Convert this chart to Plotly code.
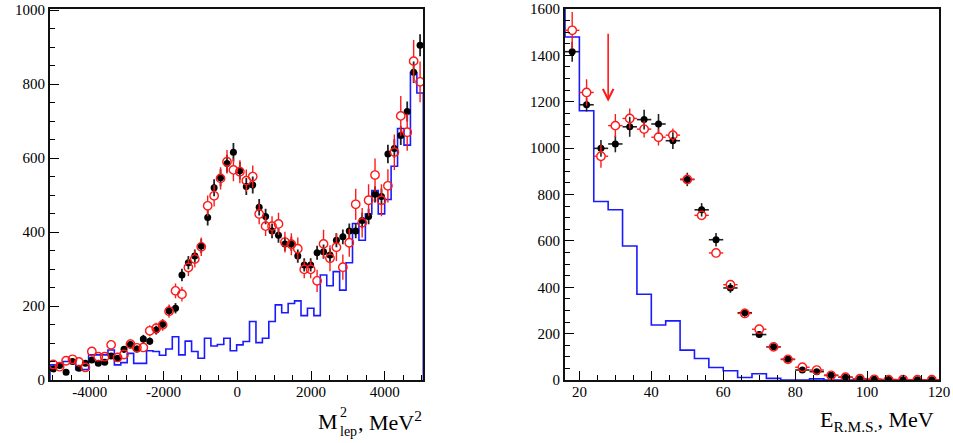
import numpy as np
import plotly.graph_objects as go

# ---------------- data: left panel (M^2_lep) ----------------
M2_RANGE = [-5080, 5045]
M2_NBINS = 58
black_m2 = [30, 39, 21, 50, 32, 45, 54, 45, 48, 65,
            59, 83, 96, 84, 111, 105, 135, 151, 187, 194,
            284, 317, 335, 362, 439, 520, 547, 585, 616, 566,
            523, 527, 467, 442, 403, 391, 368, 368, 335, 311,
            311, 344, 347, 338, 378, 387, 403, 403, 431, 442,
            502, 496, 611, 626, 661, 726, 832, 905]
black_m2_err = [6, 6, 5, 7, 6, 7, 7, 7, 7, 8,
                8, 9, 10, 9, 11, 10, 12, 12, 14, 14,
                17, 18, 18, 19, 21, 23, 23, 24, 25, 24,
                23, 23, 22, 21, 20, 20, 19, 19, 18, 18,
                18, 19, 19, 18, 19, 20, 20, 20, 21, 21,
                22, 22, 25, 25, 26, 27, 29, 30]
red_m2 = [42, 36, 52, 56, 49, 34, 77, 63, 63, 95,
          61, 69, 97, 87, 88, 133, 140, 149, 186, 241,
          232, 304, 327, 360, 471, 498, 545, 590, 568, 563,
          539, 550, 449, 416, 416, 422, 373, 367, 355, 299,
          299, 268, 368, 329, 359, 305, 371, 475, 425, 486,
          554, 486, 525, 616, 714, 670, 862, 806]
red_m2_err = [8, 8, 9, 10, 9, 8, 11, 10, 10, 13,
              10, 11, 13, 12, 12, 15, 15, 16, 18, 20,
              20, 23, 23, 25, 28, 29, 30, 32, 31, 31,
              30, 30, 28, 27, 27, 30, 28, 30, 30, 24,
              24, 30, 38, 35, 37, 34, 38, 42, 40, 43,
              45, 43, 45, 48, 54, 50, 57, 55]
blue_m2 = [41, 41, 50, 50, 28, 28, 68, 68, 68, 81,
           41, 47, 72, 45, 45, 79, 77, 67, 84, 117,
           68, 105, 77, 59, 113, 92, 96, 113, 79, 95,
           104, 158, 101, 113, 158, 203, 182, 207, 214, 174,
           194, 174, 284, 255, 293, 243, 317, 423, 378, 449,
           512, 449, 488, 578, 680, 635, 831, 776]
M2_YRANGE = [0, 1003]
m2_tickvals = [-4000, -2000, 0, 2000, 4000]
m2_ticktext = ["-4000", "-2000", "0", "2000", "4000"]
left_y_ticks = [0, 200, 400, 600, 800, 1000]

# ---------------- data: right panel (E_RMS) ----------------
e_centers = [18, 22, 26, 30, 34, 38, 42, 46, 50, 54, 58, 62, 66, 70, 74, 78,
             82, 86, 90, 94, 98, 102, 106, 110, 114, 118]
black_e = [1416, 1187, 999, 1018, 1092, 1123, 1104, 1032, 865, 734, 605, 397, 290,
           196, 143, 89, 43, 36, 20, 12, 5, 3, 2, 1, 1, 1]
black_e_err = [43, 29, 36, 36, 43, 43, 43, 36, 29, 29, 29, 21, 17,
               14, 12, 9, 7, 6, 5, 4, 2, 2, 1, 1, 1, 1]
red_e = [1508, 1240, 965, 1097, 1128, 1082, 1047, 1056, 865, 710, 548, 411, 287,
         219, 143, 89, 55, 43, 20, 12, 6, 3, 1, 2, 1, 1]
red_e_err = [79, 57, 50, 50, 43, 36, 36, 29, 22, 18, 15, 12, 10,
             9, 8, 6, 5, 4, 3, 2, 2, 1, 1, 1, 1, 1]
E_BIN_HALF = 2
blue_e_edges = [12, 16, 20, 24, 28, 32, 36, 40, 44, 48, 52, 56, 60, 64, 68, 72, 76,
                80, 84, 88, 92, 96, 100, 104, 108, 112, 116, 120]
blue_e = [2000, 1479, 1161, 770, 734, 578, 370, 237, 255, 129, 93, 54, 40, 11, 27, 7, 0,
          0, 5, 0, 0, 0, 0, 0, 0, 0, 0]
E_RANGE = [16, 120]
E_YRANGE = [0, 1600]
cut_x = 28
cut_top = 1500
cut_tip = 1200

# ---------------- geometry / style ----------------
W, H = 953, 443
L1, R1 = 50, 423.3
L2, R2 = 565, 939
PT, PB = 9, 380
MARKER_R = 4.2  # px radius of the open red circles

BLUE = "#1a1aff"
RED = "#ff1a1a"
BLACK = "#000000"
FONT = "Liberation Serif, Times New Roman, serif"

edges_m2 = np.linspace(M2_RANGE[0], M2_RANGE[1], M2_NBINS + 1)
centers_m2 = 0.5 * (edges_m2[:-1] + edges_m2[1:])


def step_xy(edges, vals):
    xs = [edges[0]] + list(edges) + [edges[-1]]
    ys = [0] + list(vals) + [vals[-1], 0]
    return xs, ys


def gapped_bars(xs, ys, yerr, ry, xhalf=None, rx=None):
    """error bar segments that stop at the edge of an open marker"""
    px, py_ = [], []
    for x, y, e in zip(xs, ys, yerr):
        if e > ry:
            px += [x, x, None, x, x, None]
            py_ += [y + ry, y + e, None, y - ry, max(y - e, 0), None]
        if xhalf is not None and xhalf > rx:
            px += [x + rx, x + xhalf, None, x - rx, x - xhalf, None]
            py_ += [y, y, None, y, y, None]
    return px, py_


fig = go.Figure()

# left panel
ry_left = MARKER_R * (M2_YRANGE[1] - M2_YRANGE[0]) / (PB - PT)
bx, by = step_xy(edges_m2, blue_m2)
fig.add_trace(go.Scatter(x=bx, y=by, mode="lines", line=dict(shape="hv", color=BLUE, width=1.6),
                         xaxis="x", yaxis="y", hoverinfo="skip"))
fig.add_trace(go.Scatter(x=centers_m2, y=black_m2, mode="markers",
                         marker=dict(symbol="circle", size=7, color=BLACK),
                         error_y=dict(type="data", array=black_m2_err, color="#222222", thickness=1.8, width=0),
                         xaxis="x", yaxis="y"))
gx, gy = gapped_bars(centers_m2, red_m2, red_m2_err, ry_left)
fig.add_trace(go.Scatter(x=gx, y=gy, mode="lines", line=dict(color=RED, width=1.4),
                         xaxis="x", yaxis="y", hoverinfo="skip"))
fig.add_trace(go.Scatter(x=centers_m2, y=red_m2, mode="markers",
                         marker=dict(symbol="circle-open", size=2 * MARKER_R, color=RED,
                                     line=dict(width=1.4, color=RED)),
                         xaxis="x", yaxis="y"))

# right panel
ry_right = MARKER_R * (E_YRANGE[1] - E_YRANGE[0]) / (PB - PT)
rx_right = MARKER_R * (E_RANGE[1] - E_RANGE[0]) / (R2 - L2)
ex, ey = step_xy(blue_e_edges, blue_e)
fig.add_trace(go.Scatter(x=ex, y=ey, mode="lines", line=dict(shape="hv", color=BLUE, width=1.6),
                         xaxis="x2", yaxis="y2", hoverinfo="skip"))
fig.add_trace(go.Scatter(x=e_centers, y=black_e, mode="markers",
                         marker=dict(symbol="circle", size=7, color=BLACK),
                         error_y=dict(type="data", array=black_e_err, color="#222222", thickness=1.6, width=0),
                         error_x=dict(type="constant", value=E_BIN_HALF, color="#222222", thickness=1.6, width=0),
                         xaxis="x2", yaxis="y2"))
gx2, gy2 = gapped_bars(e_centers, red_e, red_e_err, ry_right, E_BIN_HALF, rx_right)
fig.add_trace(go.Scatter(x=gx2, y=gy2, mode="lines", line=dict(color=RED, width=1.4),
                         xaxis="x2", yaxis="y2", hoverinfo="skip"))
fig.add_trace(go.Scatter(x=e_centers, y=red_e, mode="markers",
                         marker=dict(symbol="circle-open", size=2 * MARKER_R, color=RED,
                                     line=dict(width=1.4, color=RED)),
                         xaxis="x2", yaxis="y2"))

axis_common = dict(showline=True, linecolor="#111111", linewidth=1.8, mirror=True,
                   ticks="inside", ticklen=9, tickwidth=1, tickcolor=BLACK,
                   showgrid=False, zeroline=False, automargin=False,
                   tickfont=dict(family=FONT, size=15, color=BLACK))
minor_common = dict(ticks="inside", ticklen=5, tickcolor=BLACK, showgrid=False)

fig.update_layout(
    width=W, height=H,
    font=dict(family=FONT, size=15, color=BLACK),
    margin=dict(l=0, r=0, t=PT, b=H - PB, pad=0, autoexpand=False),
    paper_bgcolor="white", plot_bgcolor="white",
    showlegend=False,
    xaxis=dict(domain=[L1 / W, R1 / W], range=M2_RANGE, tickvals=m2_tickvals, ticktext=m2_ticktext,
               ticklabelstandoff=-3,
               minor=dict(dtick=500, tick0=0, **minor_common), anchor="y", **axis_common),
    yaxis=dict(domain=[0, 1], range=M2_YRANGE, tickvals=left_y_ticks,
               minor=dict(dtick=50, tick0=0, **minor_common), anchor="x", **axis_common),
    xaxis2=dict(domain=[L2 / W, R2 / W], range=E_RANGE, dtick=20, tick0=0,
                ticklabelstandoff=-3,
                minor=dict(dtick=5, tick0=0, **minor_common), anchor="y2", **axis_common),
    yaxis2=dict(domain=[0, 1], range=E_YRANGE, dtick=200, tick0=0,
                minor=dict(dtick=50, tick0=0, **minor_common), anchor="x2", **axis_common),
)


def py(pix):
    return (PB - pix) / (PB - PT)


def label(text, xpix, ypix, size, xanchor):
    fig.add_annotation(xref="paper", yref="paper", x=xpix / W, y=py(ypix), xanchor=xanchor,
                       yanchor="middle", text=text, showarrow=False, borderpad=0,
                       font=dict(family=FONT, size=size, color=BLACK))


# left axis title: M with stacked super/subscript, then ", MeV^2"
label("M", 339, 421, 22, "right")
label("2", 339, 412, 14, "left")
label("lep", 339, 431, 14, "left")
label(", MeV<sup>2</sup>", R1, 421, 22, "right")

# right axis title
label("E<sub>R.M.S.</sub>, MeV", 935, 421, 22, "right")

fig.add_annotation(xref="x2", yref="y2", axref="x2", ayref="y2", x=cut_x, y=cut_tip, ax=cut_x, ay=cut_top,
                   showarrow=True, arrowhead=5, arrowsize=1.3, arrowwidth=1.6, arrowcolor=RED, text="")

fig.write_html("out.html", config={"displayModeBar": False},
               post_script="document.body.style.margin='0';document.body.style.overflow='hidden';")
